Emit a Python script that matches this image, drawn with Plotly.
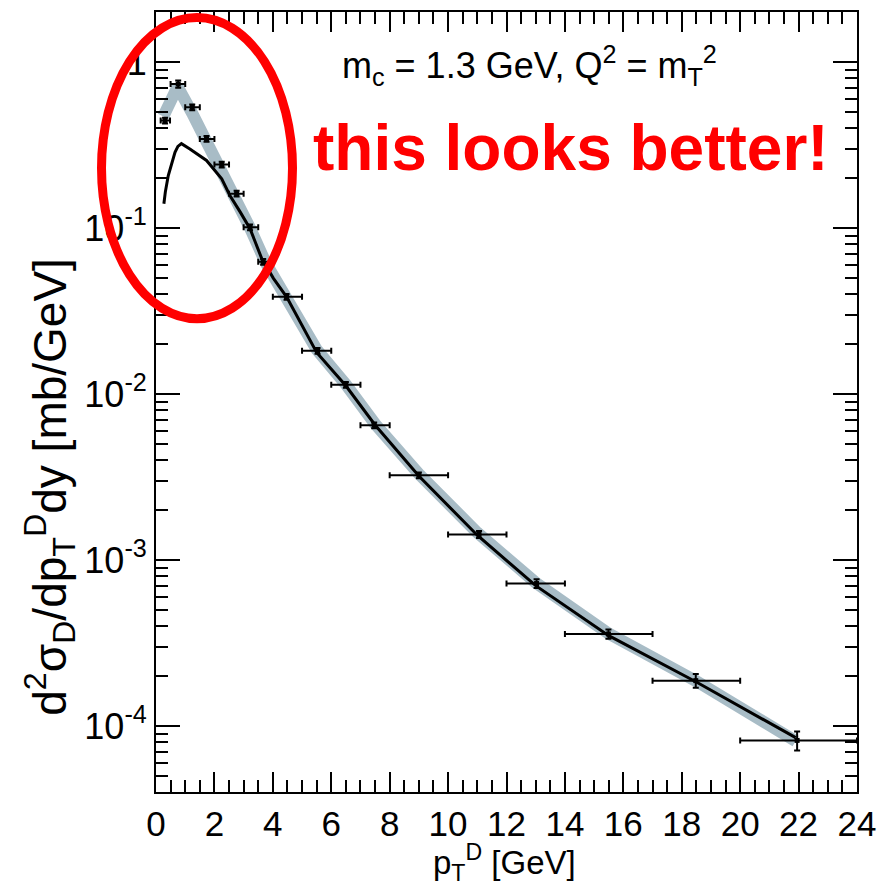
import numpy as np
import plotly.graph_objects as go

# ---------------- data ----------------
pt_data = [0.31, 0.76, 1.24, 1.73, 2.25, 2.76, 3.22, 3.67, 4.47, 5.53, 6.5, 7.47,
           9.0, 11.06, 13.03, 15.49, 18.48, 21.95]
bin_lo = [0.16, 0.5, 1.0, 1.5, 2.0, 2.5, 3.0, 3.5, 4.0, 5.0, 6.0, 7.0,
          8.0, 10.0, 12.0, 14.0, 17.0, 20.0]
bin_hi = [0.48, 1.0, 1.5, 2.0, 2.5, 3.0, 3.5, 4.0, 5.0, 6.0, 7.0, 8.0,
          10.0, 12.0, 14.0, 17.0, 20.0, 24.0]
xsec_data = [0.444, 0.736, 0.533, 0.344, 0.241, 0.161, 0.101, 0.0625, 0.0385,
             0.0182, 0.01135, 0.00648, 0.00324, 0.001425, 0.000721, 0.000358,
             0.0001875, 8.18e-5]
rel_err = [0.04, 0.05, 0.04, 0.04, 0.04, 0.04, 0.04, 0.04, 0.04, 0.04, 0.04, 0.04,
           0.04, 0.05, 0.06, 0.065, 0.095, 0.13]

# grey band (theory with uncertainty)
band_pt = [0.25, 0.74, 1.24, 1.73, 2.25, 2.6, 3.22, 3.75, 4.47, 5.5, 6.5, 7.5,
           9.0, 11.0, 13.0, 15.5, 18.5, 21.9]
band_val = [0.47, 0.71, 0.49, 0.335, 0.225, 0.171, 0.1, 0.062, 0.0378, 0.0185,
            0.0114, 0.0066, 0.0033, 0.00146, 0.00073, 0.00036, 0.000186, 8.1e-5]

# black line (theory central)
line_pt = [0.27, 0.32, 0.42, 0.54, 0.65, 0.75, 0.87, 1.16, 1.73, 2.25, 2.53, 2.88,
           3.22, 3.62, 4.02, 4.47, 5.5, 6.5, 7.5, 9.0, 11.0, 13.0, 15.5, 18.5, 21.9]
line_val = [0.14, 0.165, 0.207, 0.249, 0.286, 0.31, 0.322, 0.299, 0.255, 0.198,
            0.157, 0.125, 0.099, 0.0654, 0.0497, 0.0385, 0.0178, 0.0112, 0.0065,
            0.0032, 0.00141, 0.0007, 0.00035, 0.000184, 8.5e-5]

x_ticks = list(range(0, 25, 2))
y_tickvals = [1e-4, 1e-3, 1e-2, 1e-1, 1]
y_ticktext = ["10<sup>-4</sup>", "10<sup>-3</sup>", "10<sup>-2</sup>",
              "10<sup>-1</sup>", "1"]

# ---------------- layout geometry ----------------
W, H = 896, 888
L, R, T, B = 156, 39, 10, 96
pw, ph = W - L - R, H - T - B


def px2paper(x, y):
    return (x - L) / pw, (H - B - y) / ph


FONT = "Liberation Sans, Arial, sans-serif"

fig = go.Figure()

fig.add_trace(go.Scatter(
    x=band_pt, y=band_val, mode="lines",
    line=dict(color="#a8bcc6", width=12),
    hoverinfo="skip", showlegend=False))

fig.add_trace(go.Scatter(
    x=line_pt, y=line_val, mode="lines",
    line=dict(color="black", width=3),
    showlegend=False))

xe_plus = [h - c for h, c in zip(bin_hi, pt_data)]
xe_minus = [c - l for c, l in zip(pt_data, bin_lo)]
ye = [v * r for v, r in zip(xsec_data, rel_err)]

fig.add_trace(go.Scatter(
    x=pt_data, y=xsec_data, mode="markers",
    marker=dict(color="black", size=5, symbol="square"),
    error_x=dict(type="data", array=xe_plus, arrayminus=xe_minus,
                 color="black", thickness=2, width=3),
    error_y=dict(type="data", array=ye, color="black", thickness=2, width=3),
    showlegend=False))

# minor ticks
y_minor = [m * 10.0 ** e for e in range(-5, 1) for m in range(2, 10)]
y_minor = [v for v in y_minor if 4e-5 <= v <= 2.0]
x_minor = [v * 0.5 for v in range(0, 49)]

fig.update_layout(
    width=W, height=H,
    margin=dict(l=L, r=R, t=T, b=B, pad=0),
    paper_bgcolor="white", plot_bgcolor="white",
    font=dict(family=FONT, color="black", size=35),
    xaxis=dict(
        range=[0, 24], tickmode="array", tickvals=x_ticks,
        ticks="inside", ticklen=20, tickwidth=2, tickcolor="black",
        showline=True, linecolor="black", linewidth=2, mirror="ticks",
        showgrid=False, zeroline=False,
        tickfont=dict(size=35, family=FONT),
        minor=dict(tickmode="array", tickvals=x_minor, ticks="inside",
                   ticklen=12, tickwidth=2, tickcolor="black", showgrid=False),
    ),
    yaxis=dict(
        type="log", range=[np.log10(4e-5), np.log10(2.0)],
        tickmode="array", tickvals=y_tickvals, ticktext=y_ticktext,
        ticks="inside", ticklen=24, tickwidth=2, tickcolor="black",
        showline=True, linecolor="black", linewidth=2, mirror="ticks",
        showgrid=False, zeroline=False,
        tickfont=dict(size=36, family=FONT),
        minor=dict(tickmode="array", tickvals=y_minor, ticks="inside",
                   ticklen=12, tickwidth=2, tickcolor="black", showgrid=False),
    ),
)

# y axis title
ax, ay = px2paper(50, 486)
fig.add_annotation(
    xref="paper", yref="paper", x=ax, y=ay, xanchor="center", yanchor="middle",
    text="d<sup>2</sup>σ<sub>D</sub>/dp<sub>T</sub><sup>D</sup>dy [mb/GeV]",
    textangle=-90, showarrow=False, font=dict(size=46, family=FONT))

# x axis title (anchored to the bottom of the page)
ax, ay = px2paper(504, 887)
fig.add_annotation(
    xref="paper", yref="paper", x=ax, y=ay, xanchor="center", yanchor="bottom",
    text="p<sub>T</sub><sup>D</sup> [GeV]", borderpad=0,
    showarrow=False, font=dict(size=33, family=FONT))

# label inside plot
ax, ay = px2paper(340, 64)
fig.add_annotation(
    xref="paper", yref="paper", x=ax, y=ay, xanchor="left", yanchor="middle",
    text="m<sub>c</sub> = 1.3 GeV, Q<sup>2</sup> = m<sub>T</sub><sup>2</sup>",
    showarrow=False, font=dict(size=36, family=FONT))

# red comment
ax, ay = px2paper(311, 146)
fig.add_annotation(
    xref="paper", yref="paper", x=ax, y=ay, xanchor="left", yanchor="middle",
    text="<b>this looks better!</b>",
    showarrow=False, font=dict(size=64, family=FONT, color="#ff0000"))

# red ellipse
x0, y1 = px2paper(101.5, 15.5)
x1, y0 = px2paper(292.5, 317.5)
fig.add_shape(type="circle", xref="paper", yref="paper",
              x0=x0, x1=x1, y0=y0, y1=y1,
              line=dict(color="#ff0000", width=9), layer="above")

fig.write_html("out.html")
